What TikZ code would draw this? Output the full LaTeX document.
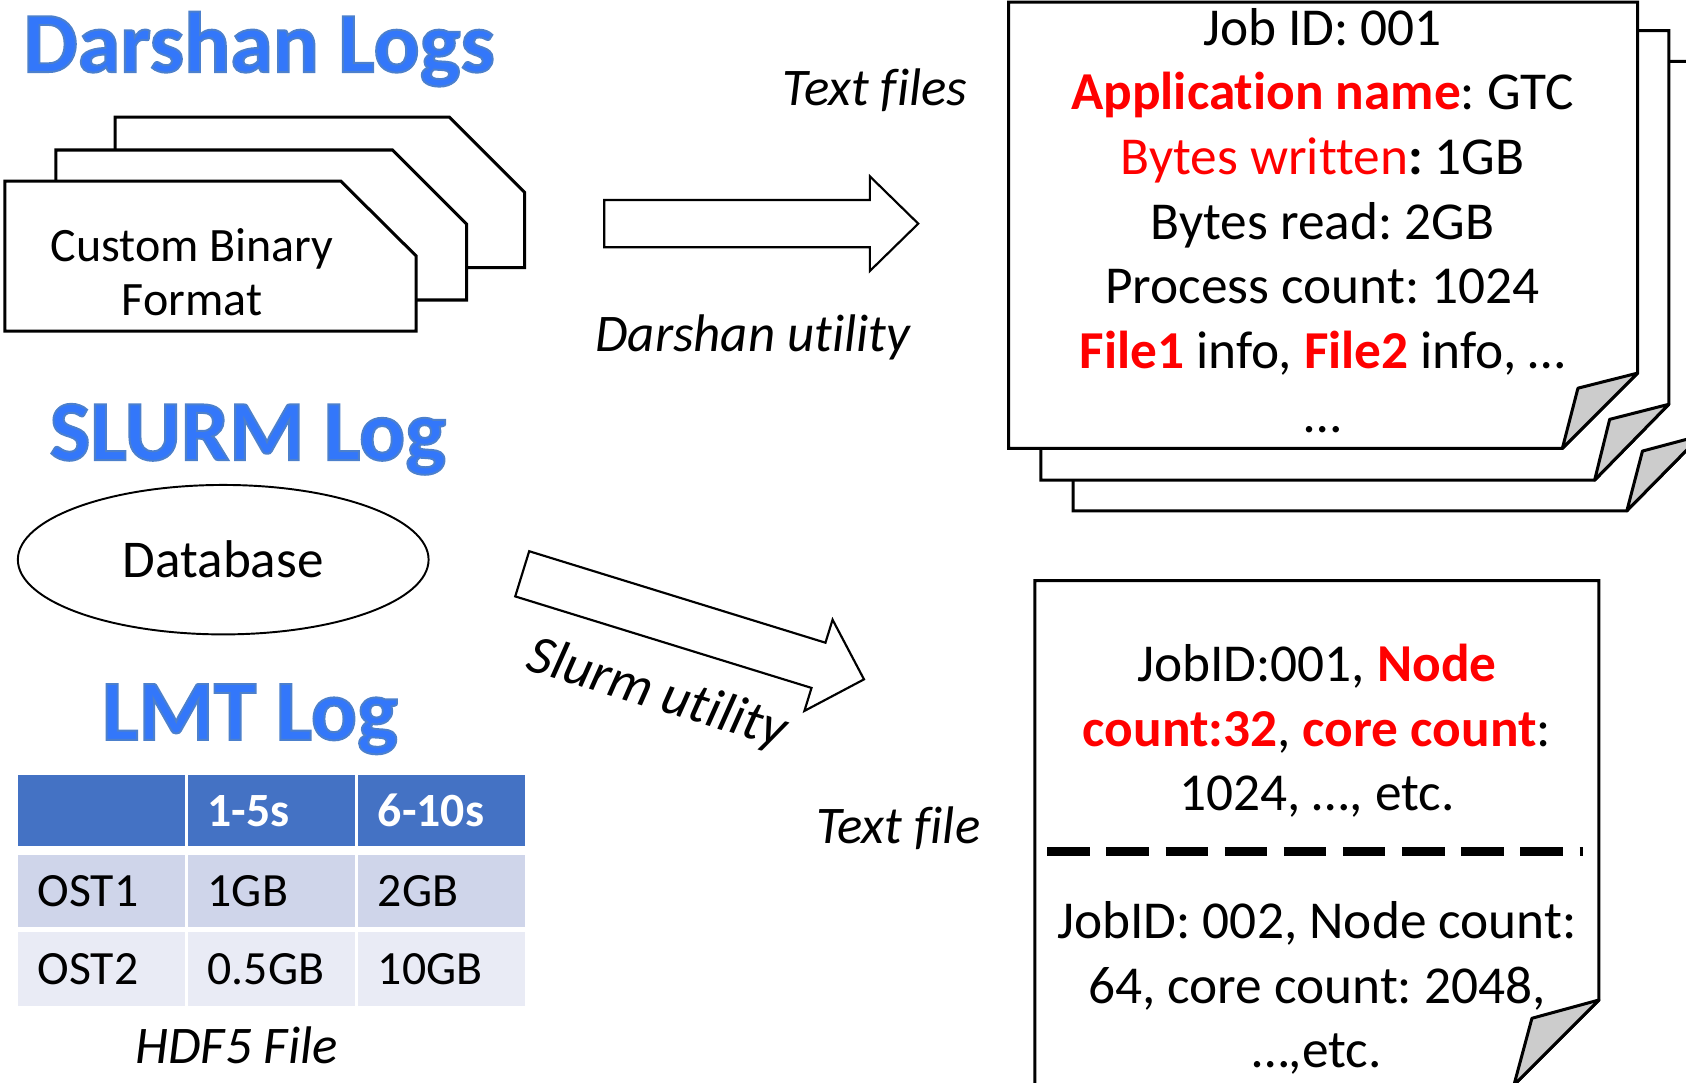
\documentclass[tikz,border=0pt]{standalone}
\usepackage{fontspec}
\setmainfont{Carlito}[Ligatures=NoCommon]
\usepackage{tikz}
\usetikzlibrary{positioning,shapes.geometric}

\definecolor{titleblue}{RGB}{51,119,250}
\definecolor{hdrblue}{RGB}{68,114,196}
\definecolor{rowdark}{RGB}{207,213,234}
\definecolor{rowlight}{RGB}{233,235,245}
\definecolor{foldgray}{RGB}{204,204,204}

\newcommand{\hl}[1]{{\bfseries\color{red}#1}}
\newcommand{\glowtxt}[1]{\special{pdf:literal direct 2 Tr 0.9 w 0.30 0.50 0.80 RG}#1\special{pdf:literal direct 0 Tr}}
\frenchspacing

\begin{document}
\begin{tikzpicture}[x=0.5pt, y=-0.5pt,
    title/.style={font=\fontsize{40}{48}\selectfont\bfseries, text=titleblue, inner sep=0pt, anchor=base},
    docline/.style={font=\fontsize{24.8}{29}\selectfont, inner sep=0pt, text height=21pt, text depth=8.65pt, anchor=base},
    binline/.style={font=\fontsize{22.3}{25}\selectfont, inner sep=0pt, text height=18pt, text depth=7pt, anchor=base},
    tag/.style={font=\fontsize{24.6}{29}\selectfont\itshape, inner sep=0pt, anchor=base},
    page/.style={draw, line width=1.4pt, fill=white},
    fold/.style={draw, line width=1.4pt, fill=foldgray, line join=round},
    bigarrow/.style={draw, line width=1pt, fill=white},
    cell/.style={minimum width=77.5pt, inner xsep=9pt, inner ysep=0pt, text width=59.5pt, align=left,
                 text height=14.5pt, text depth=0pt, font=\fontsize{22.2}{26}\selectfont},
    hdr/.style={cell, fill=hdrblue, text=white, minimum height=32.85pt, font=\fontsize{22.2}{26}\selectfont\bfseries},
    rowa/.style={cell, fill=rowdark, minimum height=33.5pt},
    rowb/.style={cell, fill=rowlight, minimum height=34.5pt}]
  \useasboundingbox (0,0) rectangle (1568,1007);

  % titles
  \node[title] (darshan) at (241,67) {\glowtxt{Darshan Logs}};
  \node[title] (slurm) at (230.5,428) {\glowtxt{SLURM Log}};
  \node[title] (lmt) at (232.5,688) {\glowtxt{LMT Log}};

  % binary log files
  \draw[page] (107,109) -- (418,109) -- (488,179) -- (488,249) -- (107,249) -- cycle;
  \draw[page] (52,139.5) -- (365,139.5) -- (434,208.5) -- (434,279) -- (52,279) -- cycle;
  \draw[page] (4.5,168.5) -- (317,168.5) -- (387,238) -- (387,308) -- (4.5,308) -- cycle;
  \node[binline] (custom) at (178.5,243) {Custom Binary};
  \node[binline, below=0pt of custom] (format) {Format};

  % darshan utility
  \begin{scope}[shift={(562,208)}]
    \draw[bigarrow] (0,-22) -- (247,-22) -- (247,-44) -- (292,0) -- (247,44) -- (247,22) -- (0,22) -- cycle;
  \end{scope}
  \node[tag] (txtfiles) at (813.7,98) {Text files};
  \node[tag] (darutil) at (700,327) {Darshan utility};

  % text files
  \draw[page] (998,57) -- (1582,57) -- (1582,405) -- (1513,475) -- (998,475) -- cycle;
  \draw[fold] (1513,475) -- (1527.5,419.5) -- (1582,405) -- cycle;
  \draw[page] (968,28.5) -- (1552,28.5) -- (1552,376) -- (1483,446.5) -- (968,446.5) -- cycle;
  \draw[fold] (1483,446.5) -- (1497,390) -- (1552,376) -- cycle;
  \draw[page] (938,2) -- (1523,2) -- (1523,347) -- (1453,417) -- (938,417) -- cycle;
  \draw[fold] (1453,417) -- (1467.5,361) -- (1523,347) -- cycle;

  \node[docline] (jobid) at (1230,42) {Job ID: 001};
  \node[docline, below=0pt of jobid] (appname) {\hl{Application name}: GTC};
  \node[docline, below=0pt of appname] (written) {{\color{red}Bytes written}{\bfseries :} 1GB};
  \node[docline, below=0pt of written] (read) {Bytes read: 2GB};
  \node[docline, below=0pt of read] (procs) {Process count: 1024};
  \node[docline, below=0pt of procs] (files) {\hl{File1} info, \hl{File2} info, …};
  \node[docline, below=0pt of files] (more) {…};

  % database
  \node[ellipse, draw, line width=0.9pt, minimum width=191pt, minimum height=69.5pt, inner sep=0pt,
        font=\fontsize{24.7}{29}\selectfont] (db) at (207.6,520.5) {Database};

  % slurm utility
  \begin{scope}[shift={(485.65,533.65)}, rotate=-17.16]
    \draw[bigarrow] (0,-22) -- (288.4,-22) -- (288.4,-44.4) -- (332.7,0) -- (288.4,44.4) -- (288.4,22) -- (0,22) -- cycle;
  \end{scope}
  \node[tag, anchor=center, rotate=-17.16, font=\fontsize{25.6}{30}\selectfont\itshape] (slurmutil) at (611,646) {Slurm utility};
  \node[tag] (txtfile) at (835.5,784) {Text file};

  % slurm text file
  \draw[page] (962.4,540) -- (1487,540) -- (1487,930) -- (1408,1009) -- (962.4,1009) -- cycle;
  \draw[fold] (1408,1009) -- (1424.7,947) -- (1487,930) -- cycle;

  \node[docline] (job1) at (1224.7,634) {JobID:001, \hl{Node}};
  \node[docline, below=0pt of job1] (job1b) {\hl{count:32}, \hl{core count}:};
  \node[docline, below=0pt of job1b] (job1c) {1024, …, etc.};
  \coordinate (sepL) at (974,792);
  \coordinate (sepR) at (1472,792);
  \draw[line width=3.85pt, dash pattern=on 19.75pt off 7.75pt] (sepL) -- (sepR);
  \node[docline, below=29.2pt of job1c] (job2) {JobID: 002, Node count:};
  \node[docline, below=0pt of job2] (job2b) {64, core count: 2048,};
  \node[docline, below=0pt of job2b] (job2c) {…,etc.};

  % lmt table
  \node[hdr, anchor=north west] (h1) at (16.6,720.7) {};
  \node[hdr, right=1.2pt of h1] (h2) {1-5s};
  \node[hdr, right=1.2pt of h2] (h3) {6-10s};
  \node[rowa, below=3.8pt of h1] (a1) {OST1};
  \node[rowa, right=1.2pt of a1] (a2) {1GB};
  \node[rowa, right=1.2pt of a2] (a3) {2GB};
  \node[rowb, below=2pt of a1] (b1) {OST2};
  \node[rowb, right=1.2pt of b1] (b2) {0.5GB};
  \node[rowb, right=1.2pt of b2] (b3) {10GB};
  \node[tag] (hdf5) at (220,988.6) {HDF5 File};
\end{tikzpicture}
\end{document}
